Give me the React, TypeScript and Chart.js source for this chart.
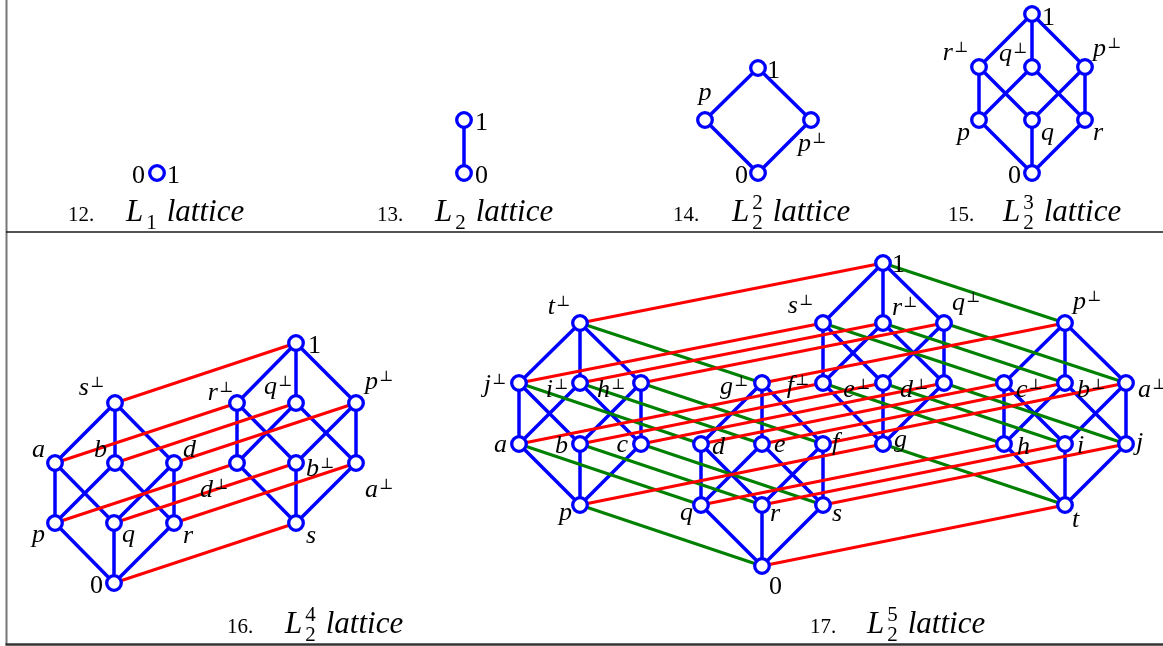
import { useEffect, useRef } from 'react';
import { Chart, registerables } from 'chart.js';

Chart.register(...registerables);

const W = 1163;
const H = 646;

const BLUE = '#0000ff';
const RED = '#ff0000';
const GREEN = '#008000';

// ---------- 12. L1 lattice ----------
const L1_NODES = ['0|1'];
const L1_X = [157];
const L1_Y = [173];
const L1_BLUE: string[][] = [];

// ---------- 13. L2 lattice ----------
const L2_NODES = ['0', '1'];
const L2_X = [464, 464];
const L2_Y = [173, 120];
const L2_BLUE = [['0', '1']];

// ---------- 14. L2^2 lattice ----------
const L22_NODES = ['0', 'p', 'p⊥', '1'];
const L22_X = [758, 705, 811, 758];
const L22_Y = [173, 120, 120, 68];
const L22_BLUE = [['0', 'p'], ['0', 'p⊥'], ['p', '1'], ['p⊥', '1']];

// ---------- 15. L2^3 lattice ----------
const L23_NODES = ['0', 'p', 'q', 'r', 'r⊥', 'q⊥', 'p⊥', '1'];
const L23_X = [1032, 979, 1032, 1085, 979, 1032, 1085, 1032];
const L23_Y = [173, 120, 120, 120, 67, 67, 67, 14];
const L23_BLUE = [
  ['0', 'p'], ['0', 'q'], ['0', 'r'],
  ['p', 'r⊥'], ['p', 'q⊥'], ['q', 'r⊥'], ['q', 'p⊥'], ['r', 'q⊥'], ['r', 'p⊥'],
  ['r⊥', '1'], ['q⊥', '1'], ['p⊥', '1'],
];

// ---------- 16. L2^4 lattice ----------
const L24_NODES = ['0', 'p', 'q', 'r', 's', 'a', 'b', 'd', 'd⊥', 'b⊥', 'a⊥', 's⊥', 'r⊥', 'q⊥', 'p⊥', '1'];
const L24_X = [114, 55, 114, 174, 296, 55, 115, 174, 237, 296, 356, 115, 237, 296, 356, 296];
const L24_Y = [583, 523, 523, 523, 523, 463, 463, 463, 463, 463, 463, 403, 403, 403, 403, 343];
const L24_BLUE = [
  ['0', 'p'], ['0', 'q'], ['0', 'r'],
  ['p', 'a'], ['p', 'b'], ['q', 'a'], ['q', 'd'], ['r', 'b'], ['r', 'd'],
  ['a', 's⊥'], ['b', 's⊥'], ['d', 's⊥'],
  ['s', 'd⊥'], ['s', 'b⊥'], ['s', 'a⊥'],
  ['d⊥', 'r⊥'], ['d⊥', 'q⊥'], ['b⊥', 'r⊥'], ['b⊥', 'p⊥'], ['a⊥', 'q⊥'], ['a⊥', 'p⊥'],
  ['r⊥', '1'], ['q⊥', '1'], ['p⊥', '1'],
];
const L24_RED = [
  ['0', 's'], ['p', 'd⊥'], ['q', 'b⊥'], ['r', 'a⊥'],
  ['a', 'r⊥'], ['b', 'q⊥'], ['d', 'p⊥'], ['s⊥', '1'],
];

// ---------- 17. L2^5 lattice ----------
const L25_NODES = [
  '0',
  'p', 'q', 'r', 's', 't',
  'a', 'b', 'c', 'd', 'e', 'f', 'g', 'h', 'i', 'j',
  'j⊥', 'i⊥', 'h⊥', 'g⊥', 'f⊥', 'e⊥', 'd⊥', 'c⊥', 'b⊥', 'a⊥',
  't⊥', 's⊥', 'r⊥', 'q⊥', 'p⊥',
  '1',
];
const L25_X = [
  762,
  580, 701, 762, 823, 1065,
  519, 580, 641, 701, 762, 823, 883, 1004, 1065, 1126,
  519, 580, 641, 762, 823, 883, 944, 1004, 1065, 1126,
  580, 823, 883, 944, 1065,
  883,
];
const L25_Y = [
  566,
  505, 505, 505, 505, 505,
  444, 444, 444, 444, 444, 444, 444, 444, 444, 444,
  383, 383, 383, 383, 383, 383, 383, 383, 383, 383,
  323, 323, 323, 323, 323,
  263,
];
const L25_BLUE = [
  ['0', 'q'], ['0', 'r'], ['0', 's'], ['q', 'd'], ['q', 'e'], ['r', 'd'], ['r', 'f'], ['s', 'e'], ['s', 'f'], ['d', 'g⊥'], ['e', 'g⊥'], ['f', 'g⊥'],
  ['p', 'a'], ['p', 'b'], ['p', 'c'], ['a', 'j⊥'], ['a', 'i⊥'], ['b', 'j⊥'], ['b', 'h⊥'], ['c', 'i⊥'], ['c', 'h⊥'], ['j⊥', 't⊥'], ['i⊥', 't⊥'], ['h⊥', 't⊥'],
  ['t', 'h'], ['t', 'i'], ['t', 'j'], ['h', 'c⊥'], ['h', 'b⊥'], ['i', 'c⊥'], ['i', 'a⊥'], ['j', 'b⊥'], ['j', 'a⊥'], ['c⊥', 'p⊥'], ['b⊥', 'p⊥'], ['a⊥', 'p⊥'],
  ['g', 'f⊥'], ['g', 'e⊥'], ['g', 'd⊥'], ['f⊥', 's⊥'], ['f⊥', 'r⊥'], ['e⊥', 's⊥'], ['e⊥', 'q⊥'], ['d⊥', 'r⊥'], ['d⊥', 'q⊥'], ['s⊥', '1'], ['r⊥', '1'], ['q⊥', '1'],
];
const L25_RED = [
  ['0', 't'], ['p', 'g'], ['q', 'h'], ['r', 'i'], ['s', 'j'],
  ['a', 'f⊥'], ['b', 'e⊥'], ['c', 'd⊥'], ['d', 'c⊥'], ['e', 'b⊥'], ['f', 'a⊥'],
  ['j⊥', 's⊥'], ['i⊥', 'r⊥'], ['h⊥', 'q⊥'], ['g⊥', 'p⊥'], ['t⊥', '1'],
];
const L25_GREEN = [
  ['0', 'p'], ['q', 'a'], ['r', 'b'], ['s', 'c'],
  ['d', 'j⊥'], ['e', 'i⊥'], ['f', 'h⊥'], ['g⊥', 't⊥'],
  ['t', 'g'], ['h', 'f⊥'], ['i', 'e⊥'], ['j', 'd⊥'],
  ['c⊥', 's⊥'], ['b⊥', 'r⊥'], ['a⊥', 'q⊥'], ['p⊥', '1'],
];

// ---------- captions ----------
const CAPTION_NUMS = ['12.', '13.', '14.', '15.', '16.', '17.'];
const CAPTION_SUBS = ['1', '2', '2', '2', '2', '2'];
const CAPTION_SUPS = ['', '', '2', '3', '4', '5'];

// ---------- layout (label placement: node, text, side, dx, dy) ----------
const L1_LABELS = [['0|1', '0', 'l', -12, 10], ['0|1', '1', 'r', 10, 10]];
const L2_LABELS = [['1', '1', 'r', 11, 10], ['0', '0', 'r', 11, 10]];
const L22_LABELS = [['1', '1', 'r', 9, 10], ['p', 'p', 'c', 0, -20], ['p⊥', 'p⊥', 'r', -13, 31], ['0', '0', 'l', -10, 10]];
const L23_LABELS = [
  ['1', '1', 'r', 10, 11], ['r⊥', 'r⊥', 'l', -11, -7], ['q⊥', 'q⊥', 'l', -5, -6], ['p⊥', 'p⊥', 'r', 8, -11],
  ['p', 'p', 'l', -9, 20], ['q', 'q', 'r', 9, 20], ['r', 'r', 'r', 8, 20], ['0', '0', 'l', -11, 10],
];
const L24_LABELS = [
  ['1', '1', 'r', 12, 10], ['s⊥', 's⊥', 'l', -11, -8], ['r⊥', 'r⊥', 'l', -4, -3], ['q⊥', 'q⊥', 'l', -4, -9], ['p⊥', 'p⊥', 'r', 9, -14],
  ['a', 'a', 'l', -10, -6], ['b', 'b', 'l', -8, -6], ['d', 'd', 'r', 9, -6],
  ['d⊥', 'd⊥', 'l', -9, 34], ['b⊥', 'b⊥', 'r', 10, 13], ['a⊥', 'a⊥', 'r', 9, 34],
  ['p', 'p', 'l', -10, 19], ['q', 'q', 'r', 8, 19], ['r', 'r', 'r', 9, 20], ['s', 's', 'r', 10, 20], ['0', '0', 'l', -11, 10],
];
const L25_LABELS = [
  ['1', '1', 'r', 9, 9],
  ['t⊥', 't⊥', 'l', -10, -9], ['s⊥', 's⊥', 'l', -10, -10], ['r⊥', 'r⊥', 'r', 9, -8], ['q⊥', 'q⊥', 'r', 8, -13], ['p⊥', 'p⊥', 'r', 8, -14],
  ['j⊥', 'j⊥', 'l', -13, 9], ['i⊥', 'i⊥', 'l', -12, 14], ['h⊥', 'h⊥', 'l', -16, 14], ['g⊥', 'g⊥', 'l', -14, 11], ['f⊥', 'f⊥', 'l', -14, 10],
  ['e⊥', 'e⊥', 'l', -13, 14], ['d⊥', 'd⊥', 'l', -16, 14], ['c⊥', 'c⊥', 'r', 12, 14], ['b⊥', 'b⊥', 'r', 12, 14], ['a⊥', 'a⊥', 'r', 12, 14],
  ['a', 'a', 'l', -12, 8], ['b', 'b', 'l', -12, 9], ['c', 'c', 'l', -13, 8], ['d', 'd', 'r', 11, 10], ['e', 'e', 'r', 12, 8],
  ['f', 'f', 'r', 9, 6], ['g', 'g', 'r', 11, 3], ['h', 'h', 'r', 13, 10], ['i', 'i', 'r', 12, 9], ['j', 'j', 'r', 10, 6],
  ['p', 'p', 'l', -8, 15], ['q', 'q', 'l', -8, 15], ['r', 'r', 'r', 8, 16], ['s', 's', 'r', 9, 16], ['t', 't', 'r', 7, 22],
  ['0', '0', 'r', 7, 28],
];
// caption placement: number x, "L" x, baseline y
const CAPTION_LAYOUT = [
  [68, 126, 221], [377, 435, 221], [673, 732, 221], [948, 1003, 221], [227, 285, 633], [810, 867, 633],
];

const PANELS = [
  { names: L1_NODES, xs: L1_X, ys: L1_Y, blue: L1_BLUE, red: [], green: [], labels: L1_LABELS },
  { names: L2_NODES, xs: L2_X, ys: L2_Y, blue: L2_BLUE, red: [], green: [], labels: L2_LABELS },
  { names: L22_NODES, xs: L22_X, ys: L22_Y, blue: L22_BLUE, red: [], green: [], labels: L22_LABELS },
  { names: L23_NODES, xs: L23_X, ys: L23_Y, blue: L23_BLUE, red: [], green: [], labels: L23_LABELS },
  { names: L24_NODES, xs: L24_X, ys: L24_Y, blue: L24_BLUE, red: L24_RED, green: [], labels: L24_LABELS },
  { names: L25_NODES, xs: L25_X, ys: L25_Y, blue: L25_BLUE, red: L25_RED, green: L25_GREEN, labels: L25_LABELS },
];

const SERIF = "'Liberation Serif', 'DejaVu Serif', serif";

function nodePoint(panel: any, name: string) {
  const i = panel.names.indexOf(name);
  return { x: panel.xs[i], y: panel.ys[i] };
}

function drawLabel(ctx: CanvasRenderingContext2D, x: number, y: number, text: string, side: string, dx: number, dy: number) {
  const hasSup = text.endsWith('⊥');
  const base = hasSup ? text.slice(0, -1) : text;
  const isDigit = /^[0-9]+$/.test(base);
  const baseFont = `${isDigit ? '' : 'italic '}26px ${SERIF}`;
  const supFont = `15px 'DejaVu Serif', serif`;
  ctx.font = baseFont;
  const bw = ctx.measureText(base).width;
  ctx.font = supFont;
  const sw = hasSup ? ctx.measureText('⊥').width : 0;
  const gap = hasSup ? 1 : 0;
  const total = bw + gap + sw;
  const x0 = side === 'l' ? x + dx - total : side === 'c' ? x + dx - total / 2 : x + dx;
  const by = y + dy;
  ctx.font = baseFont;
  ctx.fillText(base, x0, by);
  if (hasSup) {
    ctx.font = supFont;
    ctx.fillText('⊥', x0 + bw + gap, by - 8);
  }
}

function drawCaption(ctx: CanvasRenderingContext2D, num: string, sub: string, sup: string, nx: number, lx: number, by: number) {
  ctx.font = `21px ${SERIF}`;
  ctx.fillText(num, nx, by);
  ctx.font = `italic 31px ${SERIF}`;
  ctx.fillText('L', lx, by);
  const lw = ctx.measureText('L').width;
  const sx = lx + lw + 3;
  ctx.font = `21px ${SERIF}`;
  ctx.fillText(sub, sx, by + 8);
  let sw = ctx.measureText(sub).width;
  if (sup) {
    ctx.fillText(sup, sx, by - 12);
    sw = Math.max(sw, ctx.measureText(sup).width);
  }
  ctx.font = `italic 31px ${SERIF}`;
  ctx.fillText('lattice', sx + sw + 10, by);
}

const framePlugin = {
  id: 'frame',
  beforeDatasetsDraw(chart: any) {
    const { ctx, scales } = chart;
    const px = (v: number) => scales.x.getPixelForValue(v);
    const py = (v: number) => scales.y.getPixelForValue(v);
    ctx.save();
    ctx.strokeStyle = '#777777';
    ctx.lineWidth = 2;
    ctx.beginPath();
    ctx.moveTo(px(6.5), py(0));
    ctx.lineTo(px(6.5), py(645));
    ctx.stroke();
    ctx.strokeStyle = '#1a1a1a';
    ctx.lineWidth = 1.5;
    ctx.beginPath();
    ctx.moveTo(px(6), py(232));
    ctx.lineTo(px(1163), py(232));
    ctx.stroke();
    ctx.strokeStyle = '#333333';
    ctx.lineWidth = 2.5;
    ctx.beginPath();
    ctx.moveTo(px(5.5), py(644.5));
    ctx.lineTo(px(1163), py(644.5));
    ctx.stroke();
    ctx.restore();
  },
};

const textPlugin = {
  id: 'texts',
  afterDatasetsDraw(chart: any) {
    const { ctx, scales } = chart;
    ctx.save();
    ctx.fillStyle = '#000';
    ctx.textAlign = 'left';
    ctx.textBaseline = 'alphabetic';
    PANELS.forEach((panel) => {
      panel.labels.forEach((lb: any[]) => {
        const pt = nodePoint(panel, lb[0]);
        drawLabel(ctx, scales.x.getPixelForValue(pt.x), scales.y.getPixelForValue(pt.y), lb[1], lb[2], lb[3], lb[4]);
      });
    });
    CAPTION_NUMS.forEach((num, i) => {
      const [nx, lx, by] = CAPTION_LAYOUT[i];
      drawCaption(ctx, num, CAPTION_SUBS[i], CAPTION_SUPS[i], scales.x.getPixelForValue(nx), scales.x.getPixelForValue(lx), scales.y.getPixelForValue(by));
    });
    ctx.restore();
  },
};

export default function App() {
  const canvasRef = useRef<HTMLCanvasElement | null>(null);

  useEffect(() => {
    if (!canvasRef.current) return;
    const datasets: any[] = [];
    const nodePts: any[] = [];
    PANELS.forEach((panel) => {
      panel.names.forEach((n: string) => nodePts.push(nodePoint(panel, n)));
    });
    datasets.push({
      label: 'nodes',
      data: nodePts,
      showLine: false,
      pointRadius: 7.3,
      pointHoverRadius: 7.3,
      borderWidth: 3.3,
      borderColor: BLUE,
      backgroundColor: '#ffffff',
      order: 0,
    });
    const addEdges = (panel: any, edges: string[][], color: string, order: number) => {
      edges.forEach(([a, b]) => {
        datasets.push({
          label: `${a}-${b}`,
          data: [nodePoint(panel, a), nodePoint(panel, b)],
          showLine: true,
          borderColor: color,
          borderWidth: color === BLUE ? 3.5 : 3,
          pointRadius: 0,
          pointHoverRadius: 0,
          tension: 0,
          fill: false,
          order,
        });
      });
    };
    PANELS.forEach((panel) => {
      addEdges(panel, panel.blue, BLUE, 3);
      addEdges(panel, panel.red, RED, 2);
      addEdges(panel, panel.green, GREEN, 2);
    });

    const chart = new Chart(canvasRef.current, {
      type: 'scatter',
      data: { datasets },
      options: {
        animation: false,
        responsive: false,
        devicePixelRatio: 1,
        events: [],
        layout: { padding: 0, autoPadding: false },
        plugins: { legend: { display: false }, tooltip: { enabled: false } },
        scales: {
          x: { type: 'linear', min: 0, max: W, display: false },
          y: { type: 'linear', min: 0, max: H, reverse: true, display: false },
        },
      },
      plugins: [framePlugin, textPlugin],
    });
    return () => chart.destroy();
  }, []);

  return (
    <div style={{ position: 'fixed', left: 0, top: 0, width: W, height: H, background: '#ffffff' }}>
      <canvas ref={canvasRef} width={W} height={H} style={{ display: 'block' }} />
    </div>
  );
}
